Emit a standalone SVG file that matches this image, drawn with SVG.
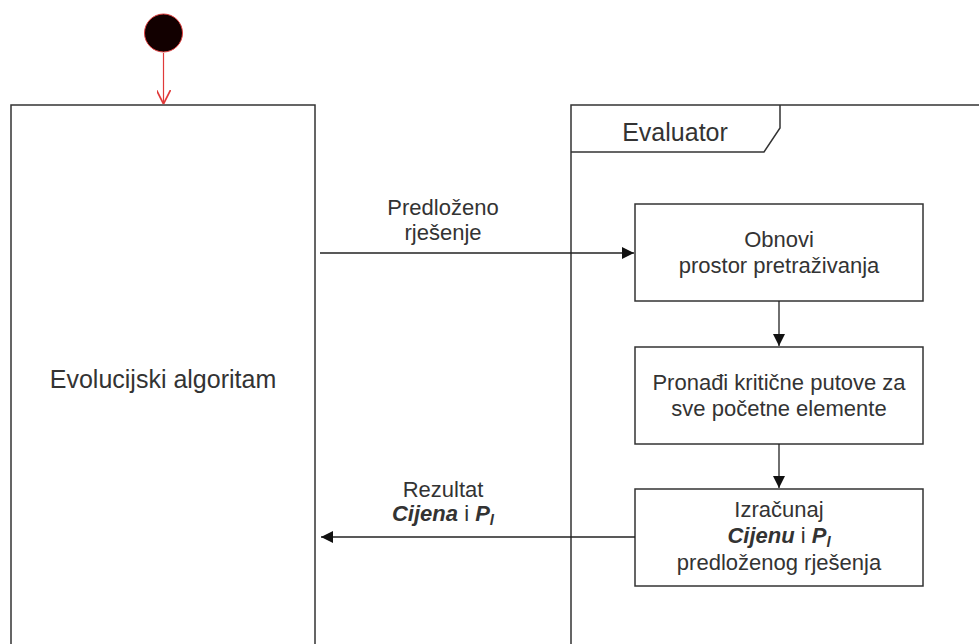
<svg xmlns="http://www.w3.org/2000/svg" width="979" height="644" viewBox="0 0 979 644">
<style>
text{font-family:"Liberation Sans",Arial,sans-serif;fill:#333;text-anchor:middle}
.frame{fill:#fff;stroke:#333;stroke-width:1.5}
.box{fill:#fff;stroke:#333;stroke-width:1.5}
.t{font-size:22px}
.big{font-size:25px}
.bi{font-weight:bold;font-style:italic}
.edge{fill:none;stroke:#222;stroke-width:1.3}
</style>
<defs>
<marker id="ah" viewBox="0 0 10 10" refX="10" refY="5" markerWidth="12" markerHeight="12" markerUnits="userSpaceOnUse" orient="auto">
<path d="M0,0 L10,5 L0,10 Z" fill="#111"/>
</marker>
<marker id="open" viewBox="0 0 10 10" refX="10" refY="5" markerWidth="14" markerHeight="14" markerUnits="userSpaceOnUse" orient="auto">
<path d="M0,0 L10,5 L0,10" fill="none" stroke="#e03a3a" stroke-width="1.2"/>
</marker>
</defs>
<g id="start">
<circle cx="163.5" cy="33" r="19" fill="#120000" stroke="#e04040" stroke-width="1"/>
</g>
<g id="evolucijski">
<rect class="frame" x="11" y="105" width="304" height="560"/>
<text class="big" x="163" y="388">Evolucijski algoritam</text>
</g>
<g id="evaluator">
<rect class="frame" x="571" y="105" width="430" height="560"/>
<path d="M571,152 L764,152 L780,128 L780,105" fill="none" stroke="#333" stroke-width="1.5"/>
<text class="big" x="675" y="141">Evaluator</text>
</g>
<g id="obnovi">
<rect class="box" x="635" y="204" width="288" height="97"/>
<text class="t" x="779" y="247">Obnovi</text>
<text class="t" x="779" y="273">prostor pretraživanja</text>
</g>
<g id="pronadi">
<rect class="box" x="635" y="347" width="288" height="97"/>
<text class="t" x="779" y="390">Pronađi kritične putove za</text>
<text class="t" x="779" y="416">sve početne elemente</text>
</g>
<g id="izracunaj">
<rect class="box" x="635" y="489" width="288" height="97"/>
<text class="t" x="779" y="517">Izračunaj</text>
<text class="t" x="779" y="543"><tspan class="bi">Cijenu</tspan> i <tspan class="bi">P</tspan><tspan class="bi" font-size="15" dy="4">l</tspan></text>
<text class="t" x="779" y="570">predloženog rješenja</text>
</g>
<g id="connectors">
<line x1="163.5" y1="53" x2="163.5" y2="104" stroke="#e03a3a" stroke-width="1.2" marker-end="url(#open)"/>
<line class="edge" x1="320" y1="253" x2="634" y2="253" marker-end="url(#ah)"/>
<line class="edge" x1="779" y1="301" x2="779" y2="346" marker-end="url(#ah)"/>
<line class="edge" x1="779" y1="444" x2="779" y2="488" marker-end="url(#ah)"/>
<line class="edge" x1="635" y1="537" x2="321" y2="537" marker-end="url(#ah)"/>
<text class="t" x="443" y="215">Predloženo</text>
<text class="t" x="443" y="240">rješenje</text>
<text class="t" x="443" y="497">Rezultat</text>
<text class="t" x="443" y="521"><tspan class="bi">Cijena</tspan> i <tspan class="bi">P</tspan><tspan class="bi" font-size="15" dy="4">l</tspan></text>
</g>
</svg>
